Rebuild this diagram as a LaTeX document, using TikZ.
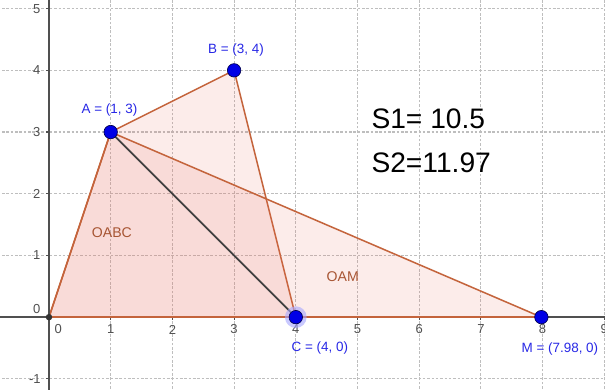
\documentclass[tikz,border=0pt]{standalone}
\usepackage{fontspec}
\setmainfont{Liberation Sans}
\definecolor{polyedge}{RGB}{196,100,60}
\definecolor{polyfill}{RGB}{235,110,95}
\definecolor{ptblue}{RGB}{0,0,230}
\definecolor{lblblue}{RGB}{40,40,230}
\definecolor{gridgray}{RGB}{190,190,190}
\definecolor{axisgray}{RGB}{80,80,80}
\begin{document}
\begin{tikzpicture}[x=1cm,y=1cm,
  gridline/.style={gridgray, line width=0.5pt, dash pattern=on 1.2pt off 0.8pt},
  axisline/.style={axisgray, line width=0.8pt},
  ticklbl/.style={font=\fontsize{6}{7}\selectfont, text=axisgray, inner sep=0pt},
  poly/.style={polyedge, line width=0.7pt, fill=polyfill, fill opacity=0.13},
  ptlbl/.style={font=\fontsize{6.2}{7}\selectfont, text=lblblue, inner sep=0pt},
  arealbl/.style={font=\fontsize{6.5}{7}\selectfont, text=polyedge!85!black, inner sep=0pt},
  pt/.style={circle, fill=ptblue, draw=black!70!blue, line width=0.3pt, minimum size=6.2pt, inner sep=0pt},
  bigtxt/.style={font=\fontsize{13}{15}\selectfont, anchor=west, inner sep=0pt}]
\useasboundingbox (-0.794,-1.167) rectangle (9.011,5.14);
\fill[white] (-0.794,-1.167) rectangle (9.011,5.14);
\begin{scope}
\clip (-0.794,-1.167) rectangle (9.011,5.14);
% grid
\foreach \i in {1,...,9} \draw[gridline] (\i,-1.3) -- (\i,5.3);
\foreach \j in {-1,1,2,3,4,5} \draw[gridline] (-0.9,\j) -- (9.1,\j);
% coordinates
\coordinate (O) at (0,0);
\coordinate (A) at (1,3);
\coordinate (B) at (3,4);
\coordinate (C) at (4,0);
\coordinate (M) at (7.98,0);
% polygons
\draw[poly] (O) -- (A) -- (B) -- (C) -- cycle;
\draw[poly] (O) -- (A) -- (M) -- cycle;
% axes
\draw[axisline] (-0.9,0) -- (9.1,0);
\draw[axisline] (0,-1.3) -- (0,5.3);
\foreach \i in {1,...,9} \draw[axisline, line width=0.5pt] (\i,0) -- (\i,-0.05);
\foreach \j in {-1,1,2,3,4,5} \draw[axisline, line width=0.5pt] (0,\j) -- (-0.05,\j);
\draw[polyedge, line width=0.7pt] (O) -- (M);
% tick labels
\node[ticklbl] (x0) at (0.15,-0.2) {0};
\foreach \i in {1,...,9} \node[ticklbl] (x\i) at (\i,-0.2) {\i};
\node[ticklbl] (y0) at (-0.2,0.13) {0};
\foreach \j in {1,2,3,4,5} \node[ticklbl] (y\j) at (-0.2,\j) {\j};
\node[ticklbl] (ym1) at (-0.23,-1) {-1};
% segment AC
\draw[black!75, line width=0.8pt] (A) -- (C);
% area labels
\node[arealbl] (lOABC) at (1.02,1.37) {OABC};
\node[arealbl] (lOAM) at (4.76,0.65) {OAM};
% points
\fill[black!80] (O) circle (1.5pt);
\fill[blue!35, opacity=0.6] (C) circle (5pt);
\node[pt] (pA) at (A) {};
\node[pt] (pB) at (B) {};
\node[pt] (pC) at (C) {};
\node[pt] (pM) at (M) {};
% point labels
\node[ptlbl] (tA) at (0.98,3.36) {A = (1, 3)};
\node[ptlbl] (tB) at (3.03,4.33) {B = (3, 4)};
\node[ptlbl] (tC) at (4.39,-0.5) {C = (4, 0)};
\node[ptlbl] (tM) at (8.28,-0.52) {M = (7.98, 0)};
% big texts
\node[bigtxt] (s1) at (5.22,3.22) {S1= 10.5};
\node[bigtxt] (s2) at (5.22,2.5) {S2=11.97};
\end{scope}
\end{tikzpicture}
\end{document}
